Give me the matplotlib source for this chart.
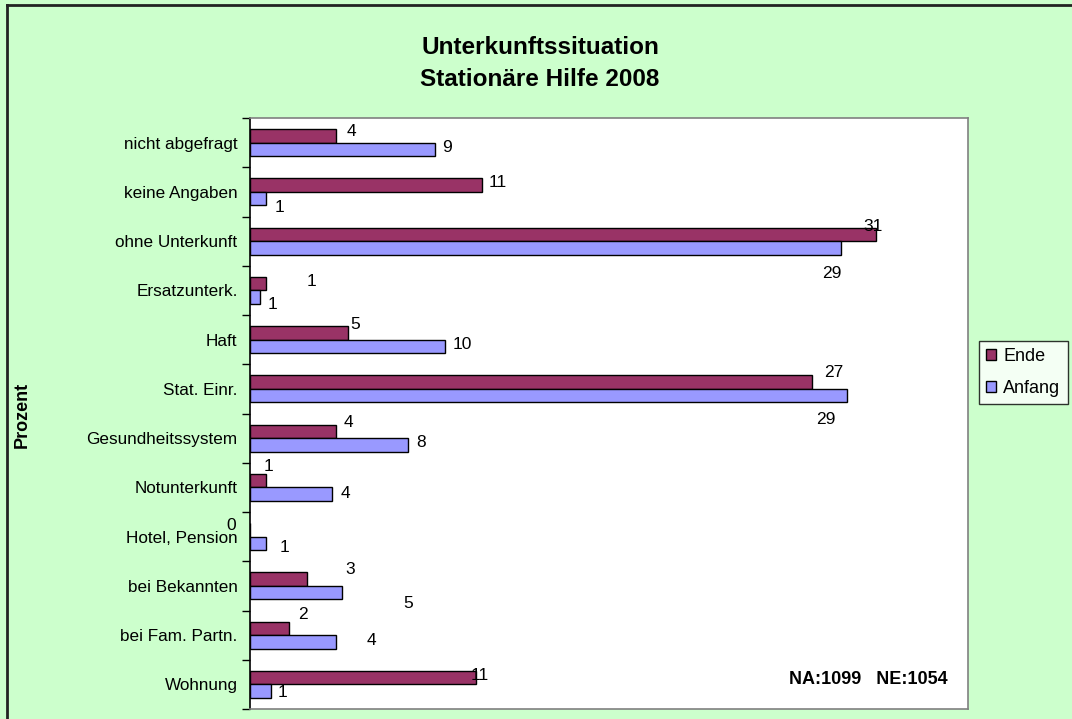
import numpy as np
import matplotlib
matplotlib.use("Agg")
import matplotlib.pyplot as plt
from matplotlib.patches import Patch
from matplotlib.lines import Line2D

plt.rcParams['font.family'] = ['Liberation Sans', 'DejaVu Sans']

# categories from top to bottom
categories = ['nicht abgefragt', 'keine Angaben', 'ohne Unterkunft', 'Ersatzunterk.',
              'Haft', 'Stat. Einr.', 'Gesundheitssystem', 'Notunterkunft',
              'Hotel, Pension', 'bei Bekannten', 'bei Fam. Partn.', 'Wohnung']
ende = [4.2, 11.3, 30.5, 0.8, 4.8, 27.4, 4.2, 0.8, 0.0, 2.8, 1.9, 11.0]
anfang = [9.0, 0.8, 28.8, 0.5, 9.5, 29.1, 7.7, 4.0, 0.8, 4.5, 4.2, 1.0]
ende_labels = ['4', '11', '31', '1', '5', '27', '4', '1', '0', '3', '2', '11']
anfang_labels = ['9', '1', '29', '1', '10', '29', '8', '4', '1', '5', '4', '1']

# label offsets in pixels (dx, dy up) from bar end - excel put them all over the place
ende_off = [(15, 4), (16, 3), (-3, 8), (45, 2), (7, 8), (22, 10), (12, 9), (2, 14),
            (-19, 4), (43, 10), (14, 14), (4, 2)]
anfang_off = [(12, 2), (13, -9), (-9, -26), (12, -7), (17, 2), (-21, -24), (13, 2), (13, 1),
              (18, -4), (66, -11), (35, 1), (12, -1)]

c_ende = '#993366'
c_anfang = '#9999FF'
bg = '#CCFFCC'

W, H = 1072, 719
fig = plt.figure(figsize=(W / 100, H / 100), dpi=100, facecolor=bg)
ax = fig.add_axes([250 / W, (H - 709) / H, (968 - 250) / W, (709 - 118) / H])
ax.set_facecolor('white')

y = np.arange(len(categories))
bh = 0.275
ax.barh(y - bh / 2, ende, height=bh, color=c_ende, edgecolor='black', linewidth=1)
ax.barh(y + bh / 2, anfang, height=bh, color=c_anfang, edgecolor='black', linewidth=1)

for i in range(len(categories)):
    ax.annotate(ende_labels[i], (ende[i], y[i] - bh / 2), xytext=ende_off[i],
                textcoords='offset pixels', ha='center', va='center', fontsize=12.5)
    ax.annotate(anfang_labels[i], (anfang[i], y[i] + bh / 2), xytext=anfang_off[i],
                textcoords='offset pixels', ha='center', va='center', fontsize=12.5)

ax.set_xlim(0, 35)
ax.set_ylim(len(categories) - 0.5, -0.5)
ax.set_xticks([])
ax.set_yticks(y)
ax.set_yticklabels(categories, fontsize=12.3)
ax.tick_params(axis='y', which='major', length=0, pad=9)
ax.set_yticks(np.arange(len(categories) + 1) - 0.5, minor=True)
ax.tick_params(axis='y', which='minor', length=6, width=1, color='black', direction='out')

for s in ['top', 'right', 'bottom']:
    ax.spines[s].set_color('#808080')
    ax.spines[s].set_linewidth(1.2)
ax.spines['left'].set_color('black')
ax.spines['left'].set_linewidth(1.2)

fig.text(948 / W, 1 - 680 / H, 'NA:1099   NE:1054', ha='right', va='center',
         fontsize=13, fontweight='bold')

fig.text(540 / W, 1 - 47 / H, 'Unterkunftssituation', ha='center', va='center',
         fontsize=17.5, fontweight='bold')
fig.text(540 / W, 1 - 79 / H, 'Stationäre Hilfe 2008', ha='center', va='center',
         fontsize=17.5, fontweight='bold')
fig.text(22 / W, 1 - 415 / H, 'Prozent', rotation=90, ha='center', va='center',
         fontsize=13, fontweight='bold')

handles = [Patch(facecolor=c_ende, edgecolor='black', label='Ende'),
           Patch(facecolor=c_anfang, edgecolor='black', label='Anfang')]
leg = fig.legend(handles=handles, loc='upper left', bbox_to_anchor=(979 / W, 1 - 341 / H),
                 fontsize=13, frameon=True, fancybox=False, handlelength=0.55,
                 handleheight=0.55, handletextpad=0.4, borderpad=0.4, labelspacing=0.8,
                 borderaxespad=0)
leg.get_frame().set_edgecolor('black')
leg.get_frame().set_linewidth(1)

# outer chart border (only left and top visible)
fig.add_artist(Line2D([6.5 / W, 6.5 / W], [0, 1 - 5 / H], color='#222222', lw=2))
fig.add_artist(Line2D([6.5 / W, 1], [1 - 5 / H, 1 - 5 / H], color='#222222', lw=2))

fig.savefig('out.png', dpi=100, facecolor=bg)
